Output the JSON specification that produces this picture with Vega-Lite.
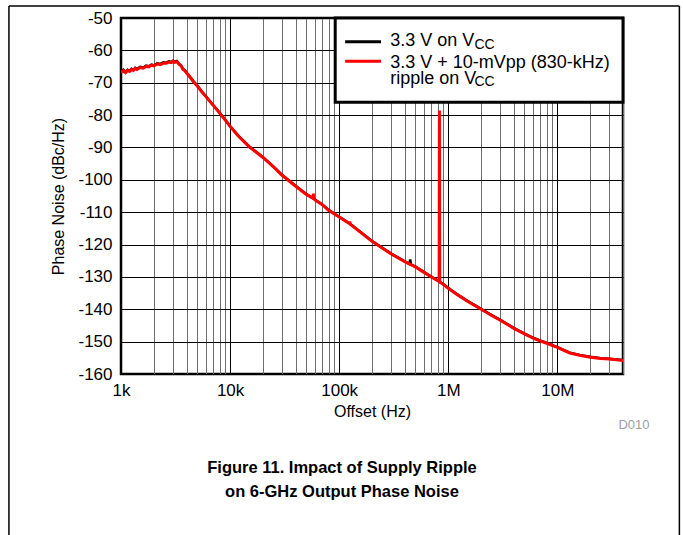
{
  "$schema": "https://vega.github.io/schema/vega-lite/v6.json",
  "width": 502,
  "height": 356,
  "autosize": {"type": "none"},
  "padding": {"left": 121, "top": 18, "right": 60, "bottom": 161},
  "background": "#ffffff",
  "config": {
    "font": "Liberation Sans",
    "view": {"stroke": "#000000", "strokeWidth": 2.5},
    "axis": {"labelColor": "#000000", "titleColor": "#000000", "labelFont": "Liberation Sans", "titleFont": "Liberation Sans"}
  },
  "resolve": {"axis": {"x": "independent", "y": "independent"}},
  "title": {
    "text": ["Figure 11. Impact of Supply Ripple", "on 6-GHz Output Phase Noise"],
    "orient": "bottom",
    "anchor": "middle",
    "frame": "group",
    "fontSize": 16.5,
    "fontWeight": "bold",
    "font": "Liberation Sans",
    "color": "#000000",
    "offset": -77,
    "dx": -30,
    "lineHeight": 24
  },
  "datasets": {
    "ref": [
      {"f": 1000, "pn": -66.6}, {"f": 1050, "pn": -66.0}, {"f": 1100, "pn": -66.7}, {"f": 1150, "pn": -66.0},
      {"f": 1200, "pn": -66.3}, {"f": 1250, "pn": -65.7}, {"f": 1300, "pn": -66.0}, {"f": 1350, "pn": -65.4},
      {"f": 1400, "pn": -65.7}, {"f": 1500, "pn": -65.1}, {"f": 1600, "pn": -65.3}, {"f": 1700, "pn": -64.7},
      {"f": 1800, "pn": -64.9}, {"f": 1900, "pn": -64.4}, {"f": 2000, "pn": -64.6}, {"f": 2150, "pn": -64.0},
      {"f": 2300, "pn": -64.2}, {"f": 2450, "pn": -63.7}, {"f": 2600, "pn": -63.8}, {"f": 2750, "pn": -63.4},
      {"f": 2900, "pn": -63.6}, {"f": 3000, "pn": -63.2}, {"f": 3100, "pn": -63.5}, {"f": 3250, "pn": -63.3},
      {"f": 3400, "pn": -64.1}, {"f": 3550, "pn": -64.6}, {"f": 3700, "pn": -65.7}, {"f": 3850, "pn": -66.1},
      {"f": 4000, "pn": -66.9}, {"f": 4300, "pn": -68.2}, {"f": 4600, "pn": -69.5}, {"f": 5000, "pn": -70.9},
      {"f": 5500, "pn": -72.7}, {"f": 6000, "pn": -74.2}, {"f": 7000, "pn": -76.9}, {"f": 8000, "pn": -79.2},
      {"f": 9000, "pn": -81.4}, {"f": 10000, "pn": -83.4}, {"f": 12000, "pn": -86.5}, {"f": 15000, "pn": -89.7},
      {"f": 20000, "pn": -93.0}, {"f": 25000, "pn": -95.9}, {"f": 30000, "pn": -98.5}, {"f": 40000, "pn": -101.9},
      {"f": 50000, "pn": -104.4}, {"f": 60000, "pn": -106.1}, {"f": 70000, "pn": -107.6}, {"f": 80000, "pn": -109.3},
      {"f": 100000, "pn": -111.4}, {"f": 125000, "pn": -113.5}, {"f": 150000, "pn": -115.6}, {"f": 200000, "pn": -118.9},
      {"f": 300000, "pn": -122.8}, {"f": 400000, "pn": -125.2}, {"f": 440000, "pn": -126.0}, {"f": 448000, "pn": -124.6},
      {"f": 456000, "pn": -126.2}, {"f": 500000, "pn": -126.8}, {"f": 600000, "pn": -128.5}, {"f": 700000, "pn": -129.9},
      {"f": 800000, "pn": -131.1}, {"f": 900000, "pn": -132.2}, {"f": 1000000, "pn": -133.4}, {"f": 1200000, "pn": -135.3},
      {"f": 1500000, "pn": -137.4}, {"f": 2000000, "pn": -139.9}, {"f": 2500000, "pn": -141.8}, {"f": 3000000, "pn": -143.3},
      {"f": 4000000, "pn": -145.8}, {"f": 5000000, "pn": -147.5}, {"f": 6000000, "pn": -148.8}, {"f": 7000000, "pn": -149.7},
      {"f": 8000000, "pn": -150.4}, {"f": 10000000, "pn": -151.7}, {"f": 13000000, "pn": -153.4}, {"f": 16000000, "pn": -154.1},
      {"f": 20000000, "pn": -154.7}, {"f": 25000000, "pn": -155.1}, {"f": 30000000, "pn": -155.3}, {"f": 35000000, "pn": -155.5},
      {"f": 40000000, "pn": -155.7}
    ],
    "ripple": [
      {"f": 1000, "pn": -66.8}, {"f": 1050, "pn": -66.3}, {"f": 1100, "pn": -66.9}, {"f": 1150, "pn": -66.2},
      {"f": 1200, "pn": -66.5}, {"f": 1250, "pn": -65.9}, {"f": 1300, "pn": -66.2}, {"f": 1350, "pn": -65.6},
      {"f": 1400, "pn": -65.9}, {"f": 1500, "pn": -65.3}, {"f": 1600, "pn": -65.5}, {"f": 1700, "pn": -64.9},
      {"f": 1800, "pn": -65.1}, {"f": 1900, "pn": -64.6}, {"f": 2000, "pn": -64.8}, {"f": 2150, "pn": -64.2},
      {"f": 2300, "pn": -64.4}, {"f": 2450, "pn": -63.9}, {"f": 2600, "pn": -64.0}, {"f": 2750, "pn": -63.6},
      {"f": 2900, "pn": -63.8}, {"f": 3000, "pn": -63.4}, {"f": 3100, "pn": -63.7}, {"f": 3250, "pn": -63.5},
      {"f": 3400, "pn": -64.3}, {"f": 3550, "pn": -64.8}, {"f": 3700, "pn": -65.9}, {"f": 3850, "pn": -66.3},
      {"f": 4000, "pn": -67.0}, {"f": 4300, "pn": -68.3}, {"f": 4600, "pn": -69.6}, {"f": 5000, "pn": -71.0},
      {"f": 5500, "pn": -72.8}, {"f": 6000, "pn": -74.3}, {"f": 7000, "pn": -77.0}, {"f": 8000, "pn": -79.3},
      {"f": 9000, "pn": -81.5}, {"f": 10000, "pn": -83.5}, {"f": 12000, "pn": -86.6}, {"f": 15000, "pn": -89.8},
      {"f": 20000, "pn": -93.1}, {"f": 25000, "pn": -96.0}, {"f": 30000, "pn": -98.6}, {"f": 40000, "pn": -102.0},
      {"f": 50000, "pn": -104.5}, {"f": 57500, "pn": -105.7}, {"f": 58000, "pn": -104.3}, {"f": 58500, "pn": -105.8},
      {"f": 60000, "pn": -106.2}, {"f": 70000, "pn": -107.7}, {"f": 80000, "pn": -109.4}, {"f": 100000, "pn": -111.5},
      {"f": 124000, "pn": -113.5}, {"f": 125000, "pn": -112.9}, {"f": 126000, "pn": -113.7}, {"f": 150000, "pn": -115.7},
      {"f": 200000, "pn": -119.0}, {"f": 300000, "pn": -122.9}, {"f": 400000, "pn": -125.3}, {"f": 500000, "pn": -126.9},
      {"f": 600000, "pn": -128.6}, {"f": 700000, "pn": -130.0}, {"f": 800000, "pn": -131.2}, {"f": 825000, "pn": -131.4},
      {"f": 830000, "pn": -78.6}, {"f": 835000, "pn": -131.6}, {"f": 900000, "pn": -132.3}, {"f": 1000000, "pn": -133.5},
      {"f": 1200000, "pn": -135.4}, {"f": 1500000, "pn": -137.5}, {"f": 2000000, "pn": -140.0}, {"f": 2500000, "pn": -141.9},
      {"f": 3000000, "pn": -143.4}, {"f": 4000000, "pn": -145.9}, {"f": 5000000, "pn": -147.6}, {"f": 6000000, "pn": -148.9},
      {"f": 7000000, "pn": -149.8}, {"f": 8000000, "pn": -150.5}, {"f": 10000000, "pn": -151.8}, {"f": 13000000, "pn": -153.5},
      {"f": 16000000, "pn": -154.2}, {"f": 20000000, "pn": -154.8}, {"f": 25000000, "pn": -155.2}, {"f": 30000000, "pn": -155.4},
      {"f": 35000000, "pn": -155.6}, {"f": 40000000, "pn": -155.8}
    ]
  },
  "layer": [
    {
      "data": {"name": "ref"},
      "mark": {"type": "line", "color": "#000000", "strokeWidth": 2.5, "clip": true},
      "encoding": {
        "x": {
          "field": "f", "type": "quantitative",
          "scale": {"type": "log", "domain": [1000, 40000000], "nice": false},
          "axis": {
            "title": "Offset (Hz)",
            "values": [1000,2000,3000,4000,5000,6000,7000,8000,9000,10000,20000,30000,40000,50000,60000,70000,80000,90000,100000,200000,300000,400000,500000,600000,700000,800000,900000,1000000,2000000,3000000,4000000,5000000,6000000,7000000,8000000,9000000,10000000,20000000,30000000,40000000],
            "labelExpr": "abs(log(datum.value)/LN10 - round(log(datum.value)/LN10)) < 0.001 ? (datum.value >= 1000000 ? round(datum.value/1000000) + 'M' : round(datum.value/1000) + 'k') : ''",
            "grid": true,
            "gridColor": {"condition": {"test": "abs(log(datum.value)/LN10 - round(log(datum.value)/LN10)) < 0.001", "value": "#000000"}, "value": "#6e6e6e"},
            "gridWidth": 1,
            "gridOpacity": 1,
            "ticks": false,
            "domain": false,
            "labelFontSize": 17,
            "labelPadding": 8,
            "labelOverlap": false,
            "labelFlush": false,
            "titleFontSize": 16,
            "titleFontWeight": "normal",
            "titlePadding": 5
          }
        },
        "y": {
          "field": "pn", "type": "quantitative",
          "scale": {"domain": [-160, -50], "nice": false, "zero": false},
          "axis": {
            "title": "Phase Noise (dBc/Hz)",
            "values": [-160,-150,-140,-130,-120,-110,-100,-90,-80,-70,-60,-50],
            "labelExpr": "'-' + abs(datum.value)",
            "grid": true,
            "gridColor": "#000000",
            "gridWidth": 1,
            "gridOpacity": 1,
            "ticks": false,
            "domain": false,
            "labelFontSize": 17,
            "labelPadding": 9,
            "labelOverlap": false,
            "labelFlush": false,
            "titleFontSize": 16,
            "titleFontWeight": "normal",
            "titlePadding": 11
          }
        }
      }
    },
    {
      "data": {"name": "ripple"},
      "mark": {"type": "line", "color": "#ff0000", "strokeWidth": 3, "clip": true},
      "encoding": {
        "x": {"field": "f", "type": "quantitative", "axis": null},
        "y": {"field": "pn", "type": "quantitative", "axis": null}
      }
    },
    {
      "data": {"values": [{}]},
      "mark": {"type": "rect", "fill": "#ffffff", "stroke": "#000000", "strokeWidth": 3},
      "encoding": {
        "x": {"datum": 92000, "axis": null},
        "x2": {"datum": 40000000},
        "y": {"datum": -50, "axis": null},
        "y2": {"datum": -76}
      }
    },
    {
      "data": {"values": [{}]},
      "mark": {"type": "rule", "color": "#000000", "strokeWidth": 3},
      "encoding": {
        "x": {"datum": 113500, "axis": null},
        "x2": {"datum": 242000},
        "y": {"datum": -57.3, "axis": null}
      }
    },
    {
      "data": {"values": [{}]},
      "mark": {"type": "rule", "color": "#ff0000", "strokeWidth": 3},
      "encoding": {
        "x": {"datum": 113500, "axis": null},
        "x2": {"datum": 242000},
        "y": {"datum": -63.4, "axis": null}
      }
    },
    {
      "data": {"values": [{}]},
      "mark": {"type": "text", "align": "left", "baseline": "alphabetic", "fontSize": 18, "color": "#000000"},
      "encoding": {
        "x": {"datum": 294000, "axis": null},
        "y": {"datum": -58.7, "axis": null},
        "text": {"value": "3.3 V on V"}
      }
    },
    {
      "data": {"values": [{}]},
      "mark": {"type": "text", "align": "left", "baseline": "alphabetic", "fontSize": 14, "color": "#000000"},
      "encoding": {
        "x": {"datum": 1740000, "axis": null},
        "y": {"datum": -59.5, "axis": null},
        "text": {"value": "CC"}
      }
    },
    {
      "data": {"values": [{}]},
      "mark": {"type": "text", "align": "left", "baseline": "alphabetic", "fontSize": 18, "color": "#000000"},
      "encoding": {
        "x": {"datum": 294000, "axis": null},
        "y": {"datum": -65.4, "axis": null},
        "text": {"value": "3.3 V + 10-mVpp (830-kHz)"}
      }
    },
    {
      "data": {"values": [{}]},
      "mark": {"type": "text", "align": "left", "baseline": "alphabetic", "fontSize": 18, "color": "#000000"},
      "encoding": {
        "x": {"datum": 294000, "axis": null},
        "y": {"datum": -70.3, "axis": null},
        "text": {"value": "ripple on V"}
      }
    },
    {
      "data": {"values": [{}]},
      "mark": {"type": "text", "align": "left", "baseline": "alphabetic", "fontSize": 14, "color": "#000000"},
      "encoding": {
        "x": {"datum": 1740000, "axis": null},
        "y": {"datum": -71.1, "axis": null},
        "text": {"value": "CC"}
      }
    },
    {
      "data": {"values": [{}]},
      "mark": {"type": "text", "align": "left", "baseline": "alphabetic", "fontSize": 13, "color": "#a0a0a0"},
      "encoding": {
        "x": {"datum": 36300000, "axis": null},
        "y": {"datum": -177, "axis": null},
        "text": {"value": "D010"}
      }
    },
    {
      "data": {"values": [{}]},
      "mark": {"type": "rule", "color": "#000000", "strokeWidth": 1.5},
      "encoding": {
        "x": {"datum": 93.9, "axis": null},
        "x2": {"datum": 131500000},
        "y": {"datum": -46.3, "axis": null}
      }
    },
    {
      "data": {"values": [{}]},
      "mark": {"type": "rule", "color": "#000000", "strokeWidth": 1.5},
      "encoding": {
        "x": {"datum": 93.9, "axis": null},
        "y": {"datum": -46.3, "axis": null},
        "y2": {"datum": -210}
      }
    },
    {
      "data": {"values": [{}]},
      "mark": {"type": "rule", "color": "#000000", "strokeWidth": 1.5},
      "encoding": {
        "x": {"datum": 131500000, "axis": null},
        "y": {"datum": -46.3, "axis": null},
        "y2": {"datum": -210}
      }
    }
  ]
}
